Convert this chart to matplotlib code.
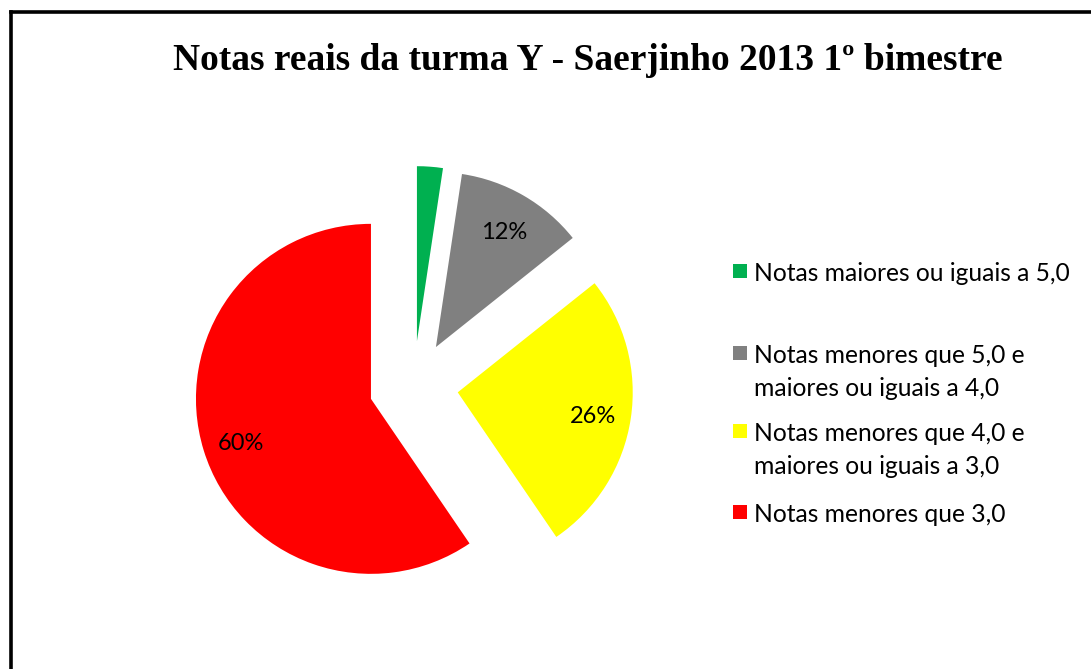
import matplotlib.pyplot as plt
import matplotlib.transforms as mtransforms
from matplotlib.patches import Rectangle
from matplotlib.lines import Line2D

# student counts per grade band (1 + 5 + 11 + 25 = 42)
categories = ["Notas maiores ou iguais a 5,0",
              "Notas menores que 5,0 e\nmaiores ou iguais a 4,0",
              "Notas menores que 4,0 e\nmaiores ou iguais a 3,0",
              "Notas menores que 3,0"]
counts = [1, 5, 11, 25]
colors = ["#00b050", "#808080", "#ffff00", "#ff0000"]
show_pct = [False, True, True, True]

W, H = 1091, 669
fig = plt.figure(figsize=(W / 100, H / 100), dpi=100)
ax = fig.add_axes([0, 0, 1, 1])

# pie: radius 1 data unit = 175 px, centre at (413.6, 385.7) px
R = 175.0
cx, cy = 413.6, 385.7


def pct_fmt(p):
    return "%.0f%%" % p


wedges, texts, autotexts = ax.pie(counts, colors=colors, startangle=90,
                                  counterclock=False, explode=[0.255] * 4,
                                  autopct=pct_fmt, pctdistance=0.78,
                                  wedgeprops=dict(linewidth=0))
shift = mtransforms.offset_copy(ax.transData, fig=fig, x=0, y=-4, units="dots")
for t, show in zip(autotexts, show_pct):
    t.set_fontfamily("Lato")
    t.set_fontsize(17)
    t.set_color("black")
    t.set_transform(shift)
    t.set_visible(show)

ax.set_xlim(-cx / R, (W - cx) / R)
ax.set_ylim(-(H - cy) / R, cy / R)
ax.set_aspect("equal")
ax.axis("off")

# title
fig.text(588 / W, 1 - 61 / H, "Notas reais da turma Y - Saerjinho 2013 1º bimestre",
         ha="center", va="center", family="Liberation Serif",
         fontweight="bold", fontsize=27)

# legend, drawn by hand to follow the original spacing
legend_y = [270.5, 353, 431, 512]
for lab, col, y in zip(categories, colors, legend_y):
    fig.patches.append(Rectangle((733 / W, 1 - (y + 7) / H), 14 / W, 14 / H,
                                 transform=fig.transFigure, facecolor=col,
                                 edgecolor="none"))
    fig.text(754 / W, 1 - (y - 9) / H, lab, ha="left", va="top",
             family="Lato", fontsize=17.7, linespacing=1.55)

# outer frame (only left and top edges visible in the crop)
fig.lines.append(Line2D([10.5 / W, 10.5 / W], [0, 1 - 11.5 / H], transform=fig.transFigure,
                        color="black", linewidth=2.6, solid_capstyle="projecting"))
fig.lines.append(Line2D([10.5 / W, 1], [1 - 11.5 / H, 1 - 11.5 / H], transform=fig.transFigure,
                        color="black", linewidth=2.6, solid_capstyle="projecting"))

fig.savefig("out.png", dpi=100)
